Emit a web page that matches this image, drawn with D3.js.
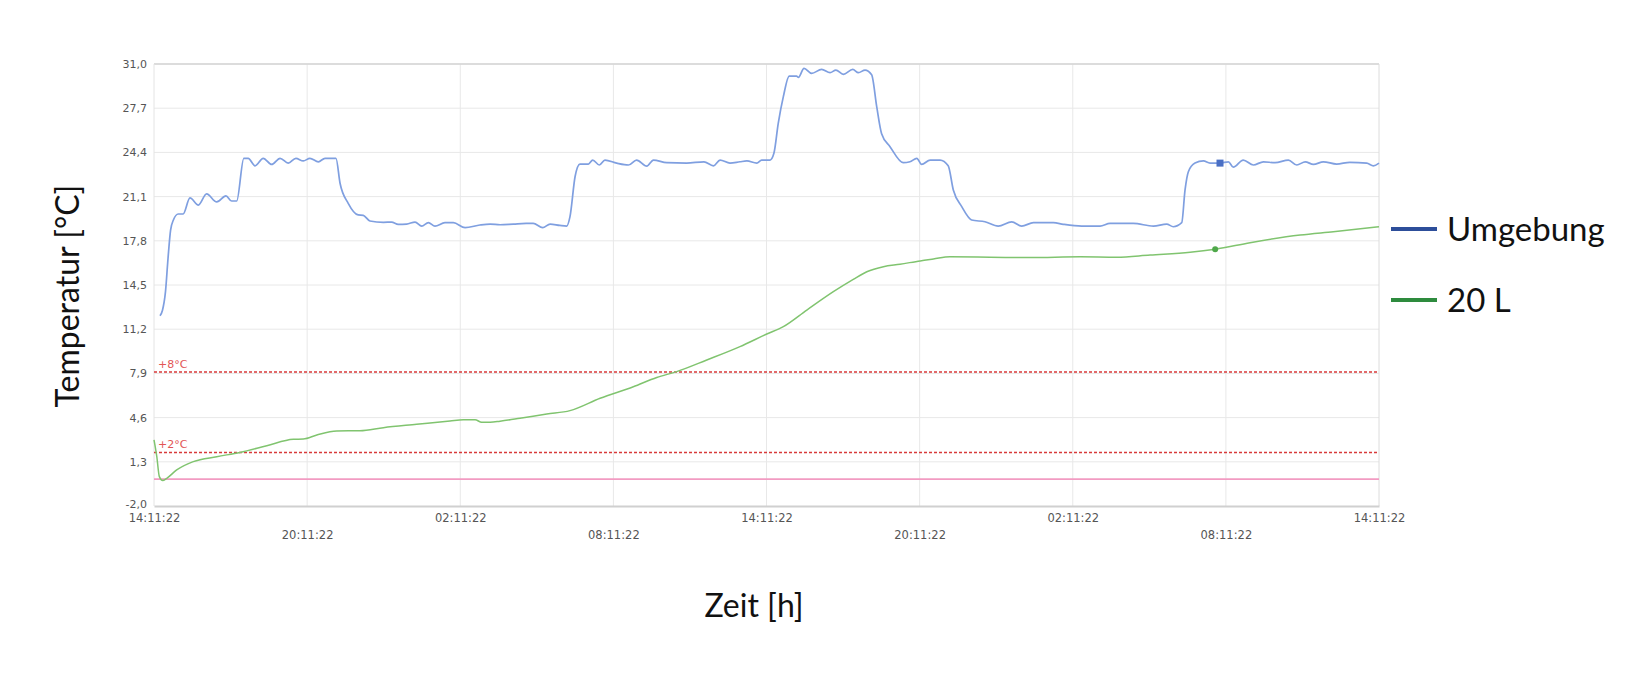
<!DOCTYPE html>
<html>
<head>
<meta charset="utf-8">
<script src="https://cdn.jsdelivr.net/npm/d3@7"></script>
<style>
  html, body { margin: 0; padding: 0; background: #fff; }
  svg { display: block; }
</style>
</head>
<body>
<svg id="chart" width="1644" height="685"></svg>
<script>
// ---------- data ----------
const yTicks = [-2.0, 1.3, 4.6, 7.9, 11.2, 14.5, 17.8, 21.1, 24.4, 27.7, 31.0];
const xTickHours = [0, 6, 12, 18, 24, 30, 36, 42, 48];
const xTickLabels = ["14:11:22", "20:11:22", "02:11:22", "08:11:22", "14:11:22",
                     "20:11:22", "02:11:22", "08:11:22", "14:11:22"];
const limitValues = [8, 2];
const limitLabels = ["+8°C", "+2°C"];
const zeroLine = 0;

// Umgebung (ambient) : hours since start, °C
const umgebungT = [0.235,0.33,0.45,0.55,0.65,0.76,0.95,1.14,1.41,1.74,2.06,2.46,2.82,3.04,3.24,3.52,3.69,3.96,4.28,4.61,4.94,5.26,5.56,5.85,6.11,6.44,6.70,7.13,7.29,7.61,8.0,8.2,8.46,8.99,9.31,9.57,9.9,10.23,10.49,10.75,11.01,11.4,11.73,12.19,12.77,13.17,13.56,14.08,14.58,14.86,15.23,15.52,15.9,16.17,16.30,16.50,16.69,17.02,17.19,17.45,17.67,18.13,18.59,18.91,19.31,19.57,20.09,20.87,21.55,21.92,22.18,22.57,22.96,23.23,23.62,23.81,24.14,24.29,24.46,24.66,24.89,25.18,25.25,25.47,25.77,26.16,26.49,26.72,27.01,27.38,27.6,27.86,28.12,28.32,28.51,28.84,29.36,29.62,29.89,30.08,30.41,30.8,31.12,31.32,31.65,32.04,32.56,33.08,33.61,34.0,34.46,35.24,35.63,36.35,37.07,37.46,38.37,39.16,39.68,39.94,40.27,40.4,40.53,40.79,41.12,41.38,41.77,42.1,42.29,42.68,43.08,43.47,43.93,44.45,44.78,45.11,45.43,45.82,46.34,46.86,47.52,47.78,48.0];
const umgebungV = [12.2,12.6,14.0,16.5,18.6,19.35,19.8,19.8,21.0,20.47,21.3,20.7,21.15,20.77,20.77,23.96,23.96,23.4,23.96,23.5,23.96,23.6,23.96,23.76,23.96,23.7,23.96,23.96,22.1,20.6,19.73,19.7,19.28,19.18,19.2,19.03,19.05,19.2,18.9,19.15,18.9,19.15,19.15,18.78,18.98,19.05,19.0,19.05,19.1,19.1,18.78,19.05,18.95,18.9,19.6,22.6,23.53,23.53,23.83,23.46,23.83,23.6,23.46,23.83,23.38,23.83,23.63,23.6,23.7,23.4,23.83,23.6,23.7,23.76,23.6,23.83,23.83,24.33,26.57,28.56,30.1,30.1,30.0,30.68,30.3,30.6,30.35,30.55,30.23,30.6,30.35,30.55,30.2,27.8,25.8,24.83,23.63,23.7,23.96,23.5,23.83,23.83,23.4,21.6,20.35,19.35,19.22,18.9,19.22,18.9,19.15,19.15,19.03,18.9,18.9,19.1,19.1,18.9,19.05,18.85,19.15,21.6,22.96,23.6,23.76,23.6,23.6,23.7,23.3,23.83,23.46,23.7,23.63,23.83,23.46,23.7,23.5,23.7,23.53,23.66,23.6,23.4,23.6];

// 20 L container
const literT = [0,0.11,0.21,0.34,0.5,0.89,1.54,2.46,3.37,4.42,5.46,5.85,6.38,7.16,8.07,8.99,10.29,11.6,12.12,12.58,12.84,13.17,13.56,14.34,15.39,16.3,17.48,18.78,19.7,20.48,21.66,22.96,24.01,24.66,25.58,26.62,27.4,27.93,28.58,29.23,30.02,30.54,31.19,34.33,36.29,37.72,39.03,40.6,41.58,42.95,44.91,46.21,48.0];
const literV = [2.93,1.68,0.19,-0.1,0.07,0.69,1.31,1.68,2.0,2.5,2.98,3.0,3.3,3.6,3.62,3.85,4.1,4.35,4.44,4.44,4.25,4.25,4.33,4.55,4.87,5.12,6.04,6.9,7.6,8.03,8.9,9.9,10.84,11.39,12.63,14.0,14.92,15.49,15.87,16.05,16.3,16.44,16.61,16.55,16.6,16.57,16.74,16.94,17.17,17.66,18.23,18.48,18.85];

const markerUmgebung = [41.77, 23.6];
const markerLiter = [41.58, 17.17];

const seriesNames = ["Umgebung", "20 L"];

// ---------- drawing ----------
const svg = d3.select("#chart");
const L = 154, R = 1379, T = 64, B = 506;
const x = d3.scaleLinear().domain([0, 48]).range([L, R]);
const y = d3.scaleLinear().domain([-2, 31]).range([B, T]);

const tickFont = "'DejaVu Sans', Verdana, sans-serif";

// horizontal grid
svg.append("g").selectAll("line").data(yTicks.slice(1)).join("line")
  .attr("x1", L).attr("x2", R)
  .attr("y1", d => y(d)).attr("y2", d => y(d))
  .attr("stroke", "#e8e8e8").attr("stroke-width", 1);
// vertical grid
svg.append("g").selectAll("line").data(xTickHours.slice(1, -1)).join("line")
  .attr("x1", d => x(d)).attr("x2", d => x(d))
  .attr("y1", T).attr("y2", B)
  .attr("stroke", "#e8e8e8").attr("stroke-width", 1);

// borders
svg.append("line").attr("x1", L).attr("x2", R).attr("y1", T).attr("y2", T)
  .attr("stroke", "#d4d4d4").attr("stroke-width", 1.5);
svg.append("line").attr("x1", R).attr("x2", R).attr("y1", T).attr("y2", B)
  .attr("stroke", "#dcdcdc").attr("stroke-width", 1);
svg.append("line").attr("x1", L).attr("x2", L).attr("y1", T).attr("y2", B)
  .attr("stroke", "#e4e4e4").attr("stroke-width", 1);

// y axis
const yAxis = d3.axisLeft(y).tickValues(yTicks)
  .tickFormat(d => d.toFixed(1).replace(".", ",")).tickSize(0).tickPadding(7);
const gy = svg.append("g").attr("transform", `translate(${L},0)`).call(yAxis);
gy.select(".domain").remove();
gy.selectAll("text").attr("font-family", tickFont).attr("font-size", 11).attr("fill", "#555")
  .attr("dy", d => d === yTicks[0] ? "0.1em" : "0.32em");

// x axis
const xAxis = d3.axisBottom(x).tickValues(xTickHours)
  .tickFormat((d, i) => xTickLabels[i]).tickSize(0).tickPadding(8);
const gx = svg.append("g").attr("transform", `translate(0,${B})`).call(xAxis);
gx.select(".domain").attr("stroke", "#d0d0d0").attr("stroke-width", 2);
gx.selectAll("text").attr("font-family", tickFont).attr("font-size", 11.5).attr("fill", "#555")
  .attr("dy", (d, i) => i % 2 === 0 ? "0.71em" : "2.15em");

// zero line
svg.append("line").attr("x1", L).attr("x2", R)
  .attr("y1", y(zeroLine)).attr("y2", y(zeroLine))
  .attr("stroke", "#f29bc2").attr("stroke-width", 1.8);

// limit lines
svg.append("g").selectAll("line").data(limitValues).join("line")
  .attr("x1", L).attr("x2", R)
  .attr("y1", d => y(d)).attr("y2", d => y(d))
  .attr("stroke", "#d83a3a").attr("stroke-width", 1.5)
  .attr("stroke-dasharray", "3,2");
svg.append("g").selectAll("text").data(limitValues).join("text")
  .attr("x", L + 4).attr("y", d => y(d) - 4)
  .attr("font-family", tickFont).attr("font-size", 11).attr("fill", "#e25555")
  .text((d, i) => limitLabels[i]);

// lines
const line = d3.line().x(d => x(d[0])).y(d => y(d[1])).curve(d3.curveMonotoneX);
const umgebung = umgebungT.map((t, i) => [t, umgebungV[i]]);
const liter = literT.map((t, i) => [t, literV[i]]);

svg.append("path").datum(liter).attr("d", line)
  .attr("fill", "none").attr("stroke", "#80c46f").attr("stroke-width", 1.5);
svg.append("path").datum(umgebung).attr("d", line)
  .attr("fill", "none").attr("stroke", "#7f9fe0").attr("stroke-width", 1.7);

// markers
svg.append("rect")
  .attr("x", x(markerUmgebung[0]) - 3.5).attr("y", y(markerUmgebung[1]) - 3.5)
  .attr("width", 7).attr("height", 7).attr("fill", "#4a6fc4");
svg.append("circle")
  .attr("cx", x(markerLiter[0])).attr("cy", y(markerLiter[1])).attr("r", 3)
  .attr("fill", "#4fa84a");

// axis titles
svg.append("text").attr("transform", "translate(79,296) rotate(-90)")
  .attr("text-anchor", "middle").attr("font-family", "Lato, sans-serif")
  .attr("font-size", 32).attr("fill", "#111").text("Temperatur [°C]");
svg.append("text").attr("x", 754).attr("y", 617)
  .attr("text-anchor", "middle").attr("font-family", "Lato, sans-serif")
  .attr("font-size", 32).attr("fill", "#111").text("Zeit [h]");

// legend
const legColors = ["#2d4e9a", "#2e8b3e"];
const legY = [229, 300];
const leg = svg.append("g");
leg.selectAll("line").data(seriesNames).join("line")
  .attr("x1", 1391).attr("x2", 1437)
  .attr("y1", (d, i) => legY[i]).attr("y2", (d, i) => legY[i])
  .attr("stroke", (d, i) => legColors[i]).attr("stroke-width", 4);
leg.selectAll("text").data(seriesNames).join("text")
  .attr("x", 1447).attr("y", (d, i) => legY[i] + 12)
  .attr("font-family", "Lato, sans-serif").attr("font-size", 33).attr("fill", "#111")
  .text(d => d);
</script>
</body>
</html>
